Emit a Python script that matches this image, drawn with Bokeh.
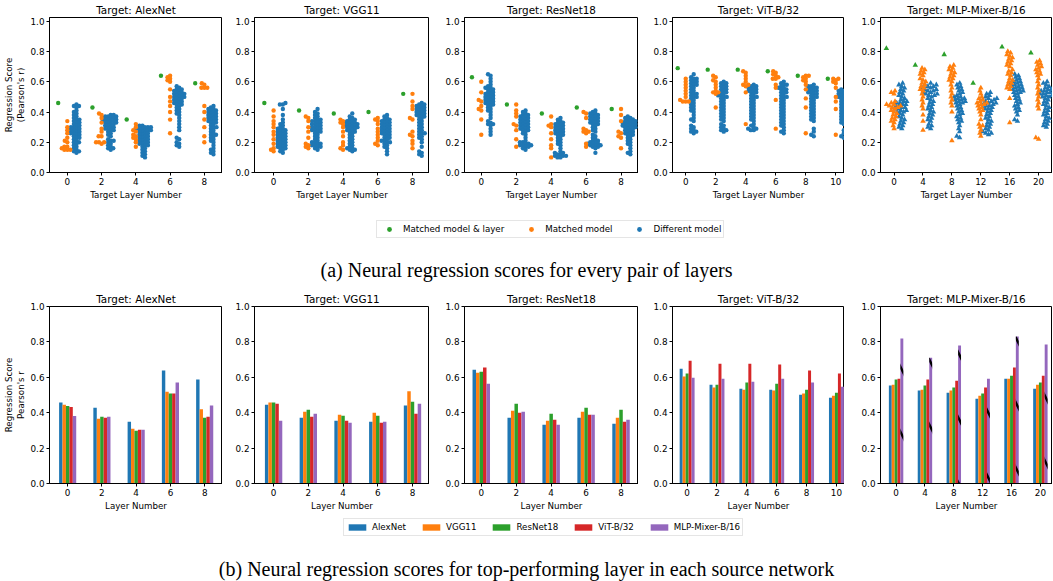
import math
from bokeh.plotting import figure
from bokeh.models import Range1d, FixedTicker, Legend, LegendItem, Div, PrintfTickFormatter
from bokeh.layouts import row, column
from bokeh.embed import file_html
from bokeh.resources import INLINE

BLUE = "#1f77b4"; ORANGE = "#ff7f0e"; GREEN = "#2ca02c"; RED = "#d62728"; PURPLE = "#9467bd"
FONT = "DejaVu Sans"

# ---------------- data ----------------
targets = ["AlexNet", "VGG11", "ResNet18", "ViT-B/32", "MLP-Mixer-B/16"]
sources = ["AlexNet", "VGG11", "ResNet18", "ViT-B/32", "MLP-Mixer-B/16"]

layers_alexnet = [0, 2, 4, 6, 8]
layers_vgg = [0, 2, 4, 6, 8]
layers_resnet = [0, 2, 4, 6, 8]
layers_vit = [0, 2, 4, 6, 8, 10]
layers_mlp = [0, 4, 8, 12, 16, 20]

# (a) swarm data: matched model & layer (green)
green_alexnet = [0.46, 0.43, 0.35, 0.64, 0.59]
green_vgg = [0.46, 0.41, 0.39, 0.40, 0.52]
green_resnet = [0.63, 0.45, 0.39, 0.43, 0.42]
green_vit = [0.69, 0.68, 0.68, 0.67, 0.64, 0.62]
green_mlp = [0.82, 0.71, 0.78, 0.59, 0.83, 0.79]

# matched model (orange)
orange_alexnet = [
    [0.34, 0.30, 0.28, 0.26, 0.23, 0.21, 0.20, 0.17, 0.17, 0.16, 0.15, 0.15, 0.15],
    [0.39, 0.38, 0.36, 0.33, 0.29, 0.27, 0.24, 0.24, 0.20, 0.20, 0.20, 0.19],
    [0.32, 0.30, 0.28, 0.27, 0.25, 0.24, 0.23, 0.22, 0.20, 0.17],
    [0.64, 0.63, 0.62, 0.61, 0.60, 0.55, 0.50, 0.47, 0.44, 0.40, 0.35, 0.26],
    [0.59, 0.58, 0.56, 0.56, 0.56, 0.44, 0.40, 0.35, 0.30, 0.24, 0.20],
]
orange_vgg = [
    [0.41, 0.37, 0.34, 0.32, 0.30, 0.27, 0.25, 0.22, 0.19, 0.16, 0.15, 0.14],
    [0.37, 0.36, 0.34, 0.30, 0.27, 0.23, 0.19, 0.18, 0.17, 0.16],
    [0.35, 0.34, 0.33, 0.32, 0.30, 0.27, 0.24, 0.20, 0.18, 0.16, 0.15],
    [0.36, 0.35, 0.34, 0.32, 0.29, 0.27, 0.25, 0.23, 0.21, 0.19, 0.18],
    [0.52, 0.47, 0.44, 0.42, 0.36, 0.35, 0.27, 0.25, 0.24, 0.21, 0.19, 0.16],
]
orange_resnet = [
    [0.60, 0.53, 0.48, 0.47, 0.44, 0.42, 0.41, 0.35, 0.25],
    [0.45, 0.41, 0.39, 0.37, 0.32, 0.31, 0.28, 0.22, 0.17],
    [0.37, 0.32, 0.31, 0.30, 0.26, 0.22, 0.18, 0.16, 0.10],
    [0.40, 0.39, 0.36, 0.29, 0.28, 0.27, 0.27, 0.26, 0.19, 0.17],
    [0.42, 0.38, 0.34, 0.27, 0.26, 0.24, 0.23, 0.16],
]
orange_vit = [
    [0.62, 0.60, 0.58, 0.56, 0.54, 0.52, 0.50, 0.48, 0.47, 0.47, 0.47],
    [0.64, 0.63, 0.61, 0.60, 0.58, 0.56, 0.54, 0.53, 0.53, 0.52, 0.43],
    [0.67, 0.66, 0.64, 0.62, 0.60, 0.58, 0.58, 0.57, 0.53, 0.32],
    [0.67, 0.66, 0.65, 0.64, 0.63, 0.62, 0.62, 0.58, 0.56, 0.48, 0.29],
    [0.64, 0.64, 0.63, 0.62, 0.61, 0.60, 0.58, 0.55, 0.49, 0.43, 0.26],
    [0.62, 0.62, 0.61, 0.60, 0.59, 0.56, 0.50, 0.47, 0.42, 0.25],
]
orange_mlp = [
    [0.54, 0.53, 0.52, 0.47, 0.46, 0.45, 0.45, 0.44, 0.44, 0.43, 0.43, 0.42, 0.41, 0.40, 0.39, 0.38, 0.37, 0.36, 0.35, 0.34, 0.33, 0.31, 0.29],
    [0.69, 0.68, 0.67, 0.66, 0.65, 0.64, 0.62, 0.61, 0.60, 0.59, 0.58, 0.57, 0.56, 0.55, 0.54, 0.52, 0.50, 0.48, 0.46, 0.44, 0.42, 0.38, 0.34, 0.28],
    [0.71, 0.70, 0.69, 0.68, 0.67, 0.66, 0.65, 0.64, 0.63, 0.62, 0.61, 0.60, 0.58, 0.56, 0.54, 0.52, 0.50, 0.48, 0.46, 0.44, 0.40, 0.21],
    [0.56, 0.54, 0.52, 0.50, 0.49, 0.48, 0.47, 0.46, 0.46, 0.45, 0.45, 0.44, 0.43, 0.42, 0.41, 0.40, 0.38, 0.35, 0.32, 0.31, 0.30, 0.28, 0.26, 0.24],
    [0.80, 0.79, 0.78, 0.77, 0.76, 0.75, 0.74, 0.73, 0.72, 0.71, 0.70, 0.68, 0.67, 0.66, 0.65, 0.64, 0.62, 0.61, 0.60, 0.59, 0.58, 0.57, 0.56, 0.55, 0.49, 0.33],
    [0.74, 0.73, 0.72, 0.71, 0.70, 0.69, 0.68, 0.67, 0.66, 0.65, 0.64, 0.62, 0.60, 0.58, 0.56, 0.54, 0.52, 0.50, 0.48, 0.46, 0.44, 0.42, 0.23, 0.22],
]

# different model (blue)
blue_alexnet = [
    [0.45, 0.44, 0.44, 0.43, 0.41, 0.40, 0.39, 0.38, 0.37, 0.36, 0.35, 0.35, 0.34, 0.33, 0.33, 0.32, 0.31, 0.31, 0.30, 0.30, 0.29, 0.29, 0.28, 0.28, 0.27, 0.27, 0.26, 0.26, 0.25, 0.25, 0.24, 0.23, 0.23, 0.22, 0.21, 0.20, 0.20, 0.19, 0.18, 0.17, 0.16, 0.15, 0.14, 0.14, 0.13],
    [0.38, 0.38, 0.37, 0.37, 0.37, 0.36, 0.36, 0.36, 0.35, 0.35, 0.35, 0.34, 0.34, 0.34, 0.33, 0.33, 0.33, 0.32, 0.32, 0.31, 0.31, 0.30, 0.30, 0.29, 0.29, 0.28, 0.28, 0.27, 0.26, 0.25, 0.24, 0.22, 0.21, 0.21, 0.20, 0.19, 0.18, 0.17, 0.16, 0.16, 0.15],
    [0.31, 0.31, 0.30, 0.30, 0.30, 0.29, 0.29, 0.29, 0.28, 0.28, 0.28, 0.27, 0.27, 0.26, 0.26, 0.25, 0.25, 0.24, 0.24, 0.23, 0.23, 0.22, 0.22, 0.21, 0.21, 0.20, 0.20, 0.19, 0.19, 0.18, 0.18, 0.17, 0.16, 0.15, 0.14, 0.13, 0.12, 0.11, 0.10],
    [0.57, 0.56, 0.55, 0.55, 0.54, 0.54, 0.53, 0.53, 0.52, 0.52, 0.52, 0.51, 0.51, 0.50, 0.50, 0.50, 0.49, 0.49, 0.48, 0.48, 0.47, 0.47, 0.46, 0.46, 0.45, 0.45, 0.44, 0.43, 0.42, 0.41, 0.40, 0.39, 0.38, 0.36, 0.34, 0.32, 0.30, 0.28, 0.23, 0.22, 0.20, 0.19, 0.18, 0.17],
    [0.44, 0.43, 0.42, 0.42, 0.41, 0.41, 0.40, 0.40, 0.39, 0.39, 0.38, 0.38, 0.37, 0.37, 0.36, 0.36, 0.35, 0.35, 0.34, 0.34, 0.33, 0.33, 0.32, 0.31, 0.30, 0.30, 0.29, 0.28, 0.27, 0.26, 0.25, 0.25, 0.24, 0.23, 0.22, 0.21, 0.20, 0.18, 0.16, 0.15, 0.14, 0.13, 0.12],
]
blue_vgg = [
    [0.46, 0.45, 0.45, 0.42, 0.38, 0.35, 0.33, 0.32, 0.31, 0.30, 0.29, 0.29, 0.28, 0.28, 0.27, 0.27, 0.26, 0.26, 0.25, 0.25, 0.24, 0.24, 0.23, 0.23, 0.22, 0.22, 0.21, 0.21, 0.20, 0.20, 0.19, 0.19, 0.18, 0.18, 0.17, 0.17, 0.16, 0.16, 0.15, 0.14, 0.13],
    [0.42, 0.40, 0.39, 0.38, 0.37, 0.36, 0.35, 0.35, 0.34, 0.34, 0.33, 0.33, 0.32, 0.32, 0.31, 0.31, 0.30, 0.30, 0.29, 0.29, 0.28, 0.28, 0.27, 0.27, 0.26, 0.25, 0.24, 0.23, 0.22, 0.21, 0.20, 0.20, 0.19, 0.19, 0.18, 0.18, 0.17, 0.17, 0.16, 0.15],
    [0.39, 0.37, 0.36, 0.35, 0.35, 0.34, 0.34, 0.33, 0.33, 0.33, 0.32, 0.32, 0.32, 0.31, 0.31, 0.31, 0.30, 0.30, 0.30, 0.29, 0.29, 0.28, 0.28, 0.27, 0.27, 0.26, 0.25, 0.24, 0.23, 0.22, 0.21, 0.20, 0.19, 0.18, 0.17, 0.16, 0.16, 0.15, 0.15, 0.14],
    [0.38, 0.37, 0.36, 0.35, 0.35, 0.34, 0.34, 0.33, 0.33, 0.32, 0.32, 0.31, 0.31, 0.30, 0.30, 0.29, 0.29, 0.28, 0.28, 0.27, 0.27, 0.26, 0.26, 0.25, 0.25, 0.24, 0.23, 0.23, 0.22, 0.21, 0.21, 0.20, 0.20, 0.19, 0.18, 0.17, 0.16, 0.14, 0.12],
    [0.46, 0.45, 0.45, 0.44, 0.44, 0.43, 0.43, 0.42, 0.42, 0.41, 0.41, 0.40, 0.40, 0.39, 0.39, 0.38, 0.38, 0.37, 0.37, 0.36, 0.35, 0.34, 0.33, 0.32, 0.31, 0.30, 0.29, 0.28, 0.27, 0.26, 0.26, 0.25, 0.24, 0.23, 0.22, 0.20, 0.17, 0.14, 0.13, 0.12, 0.11],
]
blue_resnet = [
    [0.65, 0.64, 0.62, 0.60, 0.58, 0.57, 0.56, 0.56, 0.55, 0.55, 0.54, 0.53, 0.53, 0.52, 0.52, 0.51, 0.51, 0.50, 0.50, 0.49, 0.49, 0.48, 0.48, 0.47, 0.47, 0.46, 0.46, 0.45, 0.45, 0.44, 0.43, 0.42, 0.41, 0.40, 0.38, 0.36, 0.34, 0.33, 0.32, 0.32, 0.31, 0.29, 0.27, 0.25],
    [0.41, 0.40, 0.39, 0.38, 0.38, 0.37, 0.37, 0.36, 0.36, 0.35, 0.35, 0.34, 0.34, 0.33, 0.33, 0.32, 0.32, 0.31, 0.31, 0.30, 0.30, 0.29, 0.29, 0.28, 0.28, 0.27, 0.26, 0.25, 0.23, 0.21, 0.20, 0.20, 0.19, 0.19, 0.18, 0.18, 0.18, 0.17, 0.17, 0.16, 0.15],
    [0.36, 0.35, 0.34, 0.33, 0.33, 0.32, 0.32, 0.31, 0.31, 0.30, 0.30, 0.29, 0.29, 0.28, 0.28, 0.27, 0.27, 0.26, 0.26, 0.25, 0.25, 0.24, 0.23, 0.22, 0.21, 0.20, 0.19, 0.18, 0.16, 0.14, 0.13, 0.13, 0.12, 0.12, 0.11, 0.11, 0.11, 0.10, 0.10],
    [0.41, 0.40, 0.39, 0.39, 0.38, 0.38, 0.37, 0.37, 0.36, 0.36, 0.35, 0.35, 0.34, 0.34, 0.33, 0.33, 0.32, 0.32, 0.31, 0.30, 0.29, 0.28, 0.27, 0.25, 0.24, 0.23, 0.22, 0.21, 0.21, 0.20, 0.20, 0.19, 0.19, 0.19, 0.18, 0.18, 0.18, 0.17, 0.17, 0.16, 0.13],
    [0.37, 0.36, 0.36, 0.35, 0.35, 0.34, 0.34, 0.34, 0.33, 0.33, 0.33, 0.32, 0.32, 0.32, 0.31, 0.31, 0.31, 0.30, 0.30, 0.30, 0.29, 0.29, 0.28, 0.28, 0.27, 0.27, 0.26, 0.26, 0.25, 0.25, 0.24, 0.23, 0.22, 0.21, 0.20, 0.19, 0.18, 0.16, 0.14, 0.13, 0.12],
]
blue_vit = [
    [0.65, 0.63, 0.62, 0.62, 0.61, 0.60, 0.60, 0.59, 0.58, 0.58, 0.57, 0.56, 0.55, 0.54, 0.53, 0.52, 0.52, 0.51, 0.50, 0.50, 0.49, 0.48, 0.47, 0.46, 0.45, 0.44, 0.43, 0.42, 0.41, 0.40, 0.38, 0.36, 0.35, 0.34, 0.31, 0.30, 0.29, 0.28, 0.27, 0.27, 0.26],
    [0.60, 0.59, 0.59, 0.58, 0.57, 0.57, 0.56, 0.55, 0.55, 0.54, 0.53, 0.53, 0.52, 0.51, 0.51, 0.50, 0.50, 0.49, 0.48, 0.47, 0.46, 0.45, 0.44, 0.43, 0.42, 0.41, 0.40, 0.39, 0.38, 0.37, 0.36, 0.35, 0.34, 0.32, 0.31, 0.30, 0.29, 0.28, 0.28, 0.27],
    [0.58, 0.57, 0.57, 0.56, 0.56, 0.55, 0.55, 0.54, 0.54, 0.53, 0.53, 0.52, 0.51, 0.50, 0.50, 0.49, 0.48, 0.47, 0.46, 0.45, 0.44, 0.43, 0.42, 0.41, 0.40, 0.39, 0.38, 0.37, 0.36, 0.35, 0.34, 0.32, 0.31, 0.30, 0.29, 0.29, 0.28, 0.28],
    [0.60, 0.59, 0.58, 0.58, 0.57, 0.56, 0.56, 0.55, 0.55, 0.54, 0.53, 0.53, 0.52, 0.51, 0.50, 0.50, 0.49, 0.48, 0.47, 0.46, 0.45, 0.44, 0.43, 0.42, 0.41, 0.40, 0.39, 0.38, 0.37, 0.36, 0.35, 0.34, 0.33, 0.32, 0.31, 0.30, 0.28, 0.27, 0.26],
    [0.58, 0.57, 0.57, 0.56, 0.56, 0.55, 0.55, 0.54, 0.54, 0.53, 0.53, 0.52, 0.52, 0.51, 0.50, 0.50, 0.49, 0.48, 0.47, 0.46, 0.45, 0.44, 0.43, 0.42, 0.41, 0.40, 0.39, 0.38, 0.37, 0.36, 0.35, 0.34, 0.29, 0.27, 0.25, 0.24],
    [0.55, 0.55, 0.54, 0.54, 0.53, 0.53, 0.52, 0.52, 0.51, 0.51, 0.50, 0.50, 0.49, 0.49, 0.48, 0.47, 0.46, 0.45, 0.44, 0.43, 0.42, 0.41, 0.40, 0.39, 0.38, 0.37, 0.36, 0.35, 0.34, 0.33, 0.32, 0.28, 0.26, 0.24, 0.23],
]
blue_mlp = [
    [0.59, 0.58, 0.57, 0.56, 0.55, 0.54, 0.53, 0.52, 0.51, 0.50, 0.49, 0.48, 0.47, 0.47, 0.46, 0.46, 0.45, 0.45, 0.44, 0.44, 0.43, 0.43, 0.42, 0.42, 0.41, 0.41, 0.40, 0.40, 0.39, 0.38, 0.37, 0.36, 0.35, 0.34, 0.33, 0.32, 0.31, 0.30, 0.29],
    [0.59, 0.58, 0.58, 0.57, 0.57, 0.56, 0.56, 0.55, 0.55, 0.54, 0.54, 0.53, 0.53, 0.52, 0.52, 0.51, 0.51, 0.50, 0.49, 0.48, 0.47, 0.46, 0.45, 0.44, 0.43, 0.42, 0.41, 0.40, 0.39, 0.38, 0.37, 0.36, 0.35, 0.34, 0.32, 0.31, 0.30, 0.29],
    [0.59, 0.58, 0.57, 0.56, 0.55, 0.54, 0.53, 0.52, 0.51, 0.50, 0.50, 0.49, 0.49, 0.48, 0.48, 0.47, 0.47, 0.46, 0.46, 0.45, 0.44, 0.43, 0.42, 0.41, 0.40, 0.39, 0.38, 0.37, 0.36, 0.35, 0.34, 0.33, 0.31, 0.29, 0.27, 0.24, 0.23],
    [0.53, 0.52, 0.51, 0.50, 0.49, 0.49, 0.48, 0.48, 0.47, 0.47, 0.46, 0.46, 0.45, 0.45, 0.44, 0.44, 0.43, 0.43, 0.42, 0.42, 0.41, 0.40, 0.39, 0.38, 0.37, 0.36, 0.35, 0.34, 0.33, 0.32, 0.31, 0.30, 0.29, 0.28, 0.27, 0.26, 0.26, 0.25],
    [0.65, 0.64, 0.63, 0.62, 0.61, 0.60, 0.60, 0.59, 0.59, 0.58, 0.58, 0.57, 0.57, 0.56, 0.56, 0.55, 0.55, 0.54, 0.54, 0.53, 0.53, 0.52, 0.51, 0.50, 0.49, 0.48, 0.47, 0.46, 0.45, 0.44, 0.43, 0.42, 0.41, 0.40, 0.38, 0.35, 0.34],
    [0.60, 0.59, 0.58, 0.57, 0.56, 0.55, 0.55, 0.54, 0.54, 0.53, 0.53, 0.52, 0.52, 0.51, 0.51, 0.50, 0.50, 0.49, 0.48, 0.47, 0.46, 0.45, 0.44, 0.43, 0.42, 0.41, 0.40, 0.39, 0.38, 0.37, 0.36, 0.35, 0.34, 0.33, 0.32, 0.31, 0.30],
]

# (b) best-layer scores, per source network
bars_alexnet = {
    "AlexNet": [0.457, 0.428, 0.349, 0.638, 0.587],
    "VGG11": [0.445, 0.366, 0.309, 0.519, 0.419],
    "ResNet18": [0.438, 0.377, 0.298, 0.508, 0.372],
    "ViT-B/32": [0.432, 0.372, 0.304, 0.508, 0.377],
    "MLP-Mixer-B/16": [0.381, 0.377, 0.304, 0.570, 0.440],
}
bars_vgg = {
    "AlexNet": [0.445, 0.372, 0.355, 0.349, 0.440],
    "VGG11": [0.457, 0.406, 0.389, 0.400, 0.521],
    "ResNet18": [0.457, 0.417, 0.383, 0.383, 0.462],
    "ViT-B/32": [0.451, 0.377, 0.355, 0.343, 0.394],
    "MLP-Mixer-B/16": [0.355, 0.394, 0.343, 0.349, 0.451],
}
bars_resnet = {
    "AlexNet": [0.643, 0.372, 0.332, 0.372, 0.338],
    "VGG11": [0.626, 0.411, 0.355, 0.406, 0.372],
    "ResNet18": [0.632, 0.451, 0.394, 0.428, 0.417],
    "ViT-B/32": [0.655, 0.400, 0.360, 0.389, 0.349],
    "MLP-Mixer-B/16": [0.564, 0.406, 0.332, 0.389, 0.360],
}
bars_vit = {
    "AlexNet": [0.649, 0.558, 0.536, 0.530, 0.502, 0.485],
    "VGG11": [0.604, 0.542, 0.530, 0.525, 0.508, 0.496],
    "ResNet18": [0.621, 0.558, 0.570, 0.564, 0.530, 0.513],
    "ViT-B/32": [0.694, 0.677, 0.677, 0.672, 0.638, 0.621],
    "MLP-Mixer-B/16": [0.598, 0.592, 0.575, 0.592, 0.570, 0.547],
}
bars_mlp = {
    "AlexNet": [0.553, 0.525, 0.513, 0.479, 0.592, 0.536],
    "VGG11": [0.558, 0.530, 0.525, 0.496, 0.592, 0.558],
    "ResNet18": [0.587, 0.553, 0.542, 0.508, 0.609, 0.570],
    "ViT-B/32": [0.592, 0.587, 0.581, 0.542, 0.655, 0.609],
    "MLP-Mixer-B/16": [0.819, 0.711, 0.779, 0.592, 0.830, 0.785],
}

layer_lists = [layers_alexnet, layers_vgg, layers_resnet, layers_vit, layers_mlp]
green_lists = [green_alexnet, green_vgg, green_resnet, green_vit, green_mlp]
orange_lists = [orange_alexnet, orange_vgg, orange_resnet, orange_vit, orange_mlp]
blue_lists = [blue_alexnet, blue_vgg, blue_resnet, blue_vit, blue_mlp]
bar_tables = [bars_alexnet, bars_vgg, bars_resnet, bars_vit, bars_mlp]
source_colors = [BLUE, ORANGE, GREEN, RED, PURPLE]

# ---------------- layout geometry ----------------
BORDER_L = [47, 32, 35, 34, 36]
FRAME_W = [175, 175, 174, 172, 172]
XLO_TOP = [-0.52, -0.55, -0.48, -0.44, -0.47]
XHI_TOP = [4.53, 4.49, 4.50, 5.29, 5.48]
XLO_BOT = [-0.53, -0.55, -0.48, -0.49, -0.54]
XHI_BOT = [4.52, 4.49, 4.50, 5.27, 5.42]

TOP_H, TOP_BT, TOP_BB = 202, 15, 30
BOT_H, BOT_BT, BOT_BB = 225, 18, 30
DODGE = 0.8 / 3


def swarm_x(vals, center, ppx, ppy, d):
    """Beeswarm layout (seaborn-like): nearest free horizontal slot, in pixels."""
    order = sorted(range(len(vals)), key=lambda i: vals[i])
    placed = []
    out = [center] * len(vals)
    for i in order:
        y = vals[i] * ppy
        near = [(px, py) for (px, py) in placed if abs(py - y) < d]
        cands = [0.0]
        for px, py in near:
            dx = math.sqrt(max(d * d - (y - py) ** 2, 0.0))
            cands += [px + dx, px - dx]
        cands.sort(key=lambda c: (abs(c), c))
        chosen = cands[-1]
        for c in cands:
            if all((c - px) ** 2 + (y - py) ** 2 >= d * d - 1e-6 for px, py in near):
                chosen = c
                break
        placed.append((chosen, y))
        out[i] = center + chosen / ppx
    return out


def style_axes(p, layers, xlabel, ylabel):
    n = len(layers)
    p.xaxis.ticker = FixedTicker(ticks=list(range(n)))
    p.xaxis.major_label_overrides = {i: str(layers[i]) for i in range(n)}
    p.yaxis.ticker = FixedTicker(ticks=[0.0, 0.2, 0.4, 0.6, 0.8, 1.0])
    p.yaxis.formatter = PrintfTickFormatter(format="%.1f")
    for ax in (p.xaxis[0], p.yaxis[0]):
        ax.minor_tick_line_color = None
        ax.major_tick_in = 0
        ax.major_tick_out = 3
        ax.major_tick_line_color = "black"
        ax.axis_line_color = "black"
        ax.major_label_text_font = FONT
        ax.major_label_text_font_size = "8.8px"
        ax.major_label_text_color = "black"
        ax.major_label_standoff = 2
        ax.axis_label_text_font = FONT
        ax.axis_label_text_font_size = "8.7px"
        ax.axis_label_text_font_style = "normal"
        ax.axis_label_text_color = "black"
        ax.axis_label_standoff = 2
    p.xaxis.axis_label = xlabel
    if ylabel:
        p.yaxis.axis_label = ylabel
    p.xgrid.visible = False
    p.ygrid.visible = False
    p.outline_line_color = "black"
    p.outline_line_width = 1
    p.title.text_font = FONT
    p.title.text_font_size = "10.4px"
    p.title.text_font_style = "normal"
    p.title.text_color = "black"
    p.title.align = "center"
    p.title.standoff = 3


top_figs = []
bot_figs = []
for k, tname in enumerate(targets):
    layers = layer_lists[k]
    n = len(layers)
    # ---- (a) swarm ----
    p = figure(width=BORDER_L[k] + FRAME_W[k], height=TOP_H,
               x_range=Range1d(XLO_TOP[k], XHI_TOP[k]), y_range=Range1d(0, 1.025),
               min_border_left=BORDER_L[k], min_border_right=0,
               min_border_top=TOP_BT, min_border_bottom=TOP_BB,
               toolbar_location=None, output_backend="svg", title="Target: " + tname)
    style_axes(p, layers, "Target Layer Number",
               "Regression Score\n(Pearson's r)" if k == 0 else None)
    ppx = FRAME_W[k] / (XHI_TOP[k] - XLO_TOP[k])
    ppy = (TOP_H - TOP_BT - TOP_BB) / 1.025
    marker = "triangle" if k == 4 else "circle"
    msize = 5.5 if k == 4 else 4.4
    gap = 3.2 if k == 4 else 3.0
    gx, gy, ox, oy, bx, by = [], [], [], [], [], []
    for j in range(n):
        gx.append(j - DODGE)
        gy.append(green_lists[k][j])
        ov = orange_lists[k][j]
        ox += swarm_x(ov, j, ppx, ppy, gap)
        oy += ov
        bv = blue_lists[k][j]
        bx += swarm_x(bv, j + DODGE, ppx, ppy, gap)
        by += bv
    p.scatter(bx, by, marker=marker, size=msize, fill_color=BLUE, line_color=None)
    p.scatter(ox, oy, marker=marker, size=msize, fill_color=ORANGE, line_color=None)
    p.scatter(gx, gy, marker=marker, size=msize, fill_color=GREEN, line_color=None)
    top_figs.append(p)

    # ---- (b) bars ----
    q = figure(width=BORDER_L[k] + FRAME_W[k], height=BOT_H,
               x_range=Range1d(XLO_BOT[k], XHI_BOT[k]), y_range=Range1d(0, 1.0),
               min_border_left=BORDER_L[k], min_border_right=0,
               min_border_top=BOT_BT, min_border_bottom=BOT_BB,
               toolbar_location=None, output_backend="svg", title="Target: " + tname)
    style_axes(q, layers, "Layer Number",
               "Regression Score\nPearson's r" if k == 0 else None)
    table = bar_tables[k]
    for s, src in enumerate(sources):
        xs = [j + (s - 2) * 0.1 for j in range(n)]
        kw = dict(x=xs, top=table[src], width=0.1, fill_color=source_colors[s], line_color=None)
        if k == 4 and src == "MLP-Mixer-B/16":
            kw.update(hatch_pattern="left_diagonal_line", hatch_color="black",
                      hatch_scale=65, hatch_weight=2.5)
        q.vbar(**kw)
    bot_figs.append(q)

# ---------------- legends ----------------
# legend swatches are off-range single points (never visible in the frame)
leg_a = figure(width=1052, height=46, x_range=Range1d(0, 1), y_range=Range1d(0, 1),
               x_axis_location=None, y_axis_location=None, min_border=0,
               toolbar_location=None, output_backend="svg")
leg_a.grid.visible = False
leg_a.outline_line_color = None
ra = [leg_a.scatter(x=[-9], y=[-9], size=5, fill_color=c, line_color=None)
      for c in (GREEN, ORANGE, BLUE)]
lga = Legend(items=[LegendItem(label=lab, renderers=[r]) for lab, r in
                    zip(["Matched model & layer", "Matched model", "Different model"], ra)],
             orientation="horizontal", location=(376, 10),
             glyph_width=20, glyph_height=12, label_height=12, label_standoff=4,
             spacing=17, padding=2, margin=0,
             label_text_font=FONT, label_text_font_size="8.7px", label_text_color="black",
             border_line_color="#cccccc", border_line_width=1)
leg_a.add_layout(lga)

leg_b = figure(width=1052, height=32, x_range=Range1d(0, 1), y_range=Range1d(0, 1),
               x_axis_location=None, y_axis_location=None, min_border=0,
               toolbar_location=None, output_backend="svg")
leg_b.grid.visible = False
leg_b.outline_line_color = None
rb = [leg_b.vbar(x=[-9], top=[-9], width=0.1, fill_color=c, line_color=None) for c in source_colors]
lgb = Legend(items=[LegendItem(label=src, renderers=[r]) for src, r in zip(sources, rb)],
             orientation="horizontal", location=(343, 9),
             glyph_width=22, glyph_height=8, label_height=12, label_standoff=4,
             spacing=14, padding=2, margin=0,
             label_text_font=FONT, label_text_font_size="8.7px", label_text_color="black",
             border_line_color="#cccccc", border_line_width=1)
leg_b.add_layout(lgb)

CAP_STYLE = ("text-align:center;font-family:'Liberation Serif','Times New Roman',serif;"
             "font-size:20px;line-height:24px;color:black;width:1053px;")
cap_a = Div(text='<div style="%spadding-top:10px;">(a) Neural regression scores for every pair of layers</div>' % CAP_STYLE,
            width=1052, height=40, margin=0)
cap_b = Div(text='<div style="%spadding-top:12px;">(b) Neural regression scores for top-performing layer in each source network</div>' % CAP_STYLE,
            width=1052, height=34, margin=0)

layout = column(row(*top_figs, spacing=0), leg_a, cap_a, row(*bot_figs, spacing=0), leg_b, cap_b, spacing=0)

open("out.html", "w").write(file_html(layout, INLINE, "Neural regression scores"))
